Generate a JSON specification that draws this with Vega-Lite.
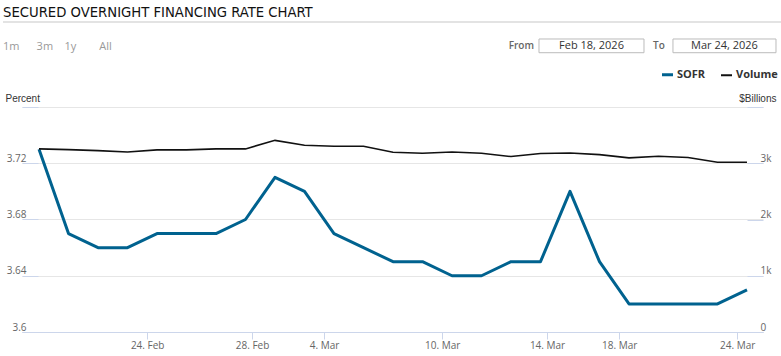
{
  "$schema": "https://vega.github.io/schema/vega-lite/v6.json",
  "width": 741,
  "height": 225,
  "autosize": {"type": "none"},
  "padding": {"left": 22, "top": 107, "right": 18, "bottom": 24},
  "background": "white",
  "datasets": {
    "rates": [
      {"date": "2026-02-18", "sofr": 3.73, "volume": 3255},
      {"date": "2026-02-19", "sofr": 3.67, "volume": 3242},
      {"date": "2026-02-20", "sofr": 3.66, "volume": 3225},
      {"date": "2026-02-23", "sofr": 3.66, "volume": 3200},
      {"date": "2026-02-24", "sofr": 3.67, "volume": 3237},
      {"date": "2026-02-25", "sofr": 3.67, "volume": 3237},
      {"date": "2026-02-26", "sofr": 3.67, "volume": 3255},
      {"date": "2026-02-27", "sofr": 3.68, "volume": 3255},
      {"date": "2026-03-02", "sofr": 3.71, "volume": 3407},
      {"date": "2026-03-03", "sofr": 3.70, "volume": 3319},
      {"date": "2026-03-04", "sofr": 3.67, "volume": 3301},
      {"date": "2026-03-05", "sofr": 3.66, "volume": 3301},
      {"date": "2026-03-06", "sofr": 3.65, "volume": 3195},
      {"date": "2026-03-09", "sofr": 3.65, "volume": 3177},
      {"date": "2026-03-10", "sofr": 3.64, "volume": 3200},
      {"date": "2026-03-11", "sofr": 3.64, "volume": 3177},
      {"date": "2026-03-12", "sofr": 3.65, "volume": 3119},
      {"date": "2026-03-13", "sofr": 3.65, "volume": 3172},
      {"date": "2026-03-16", "sofr": 3.70, "volume": 3183},
      {"date": "2026-03-17", "sofr": 3.65, "volume": 3154},
      {"date": "2026-03-18", "sofr": 3.62, "volume": 3096},
      {"date": "2026-03-19", "sofr": 3.62, "volume": 3124},
      {"date": "2026-03-20", "sofr": 3.62, "volume": 3101},
      {"date": "2026-03-23", "sofr": 3.62, "volume": 3018},
      {"date": "2026-03-24", "sofr": 3.63, "volume": 3018}
    ]
  },
  "title": {
    "text": "SECURED OVERNIGHT FINANCING RATE CHART",
    "subtitle": "1m\u00a0\u00a0\u00a0\u00a0\u00a0\u00a03m\u00a0\u00a0\u00a0\u00a01y\u00a0\u00a0\u00a0\u00a0\u00a0\u00a0\u00a0\u00a0All",
    "anchor": "start",
    "frame": "group",
    "dx": -19,
    "dy": 31,
    "offset": 0,
    "font": "Liberation Sans Narrow, DejaVu Sans Condensed",
    "fontSize": 14.7,
    "fontWeight": "normal",
    "color": "#111111",
    "subtitleFont": "Open Sans",
    "subtitleFontSize": 11,
    "subtitleColor": "#999999",
    "subtitlePadding": 21
  },
  "layer": [
    {
      "layer": [
        {
          "data": {"values": [{"label": "rule"}]},
          "mark": {"type": "rule", "color": "#e3e3e3", "strokeWidth": 2},
          "encoding": {
            "x": {"datum": -0.22, "type": "quantitative"},
            "x2": {"datum": 26.2},
            "y": {"datum": 3.8204, "type": "quantitative"}
          }
        },
        {
          "data": {"values": [{"label": "From"}]},
          "mark": {"type": "text", "align": "right", "baseline": "middle", "font": "Open Sans", "fontSize": 10, "fontWeight": 600, "color": "#666666"},
          "encoding": {
            "x": {"datum": 17.78, "type": "quantitative"},
            "y": {"datum": 3.8034, "type": "quantitative"},
            "text": {"field": "label"}
          }
        },
        {
          "data": {"values": [{"label": "box"}]},
          "mark": {"type": "rect", "fill": "white", "stroke": "#bbbbbb", "strokeWidth": 1},
          "encoding": {
            "x": {"datum": 17.949, "type": "quantitative"},
            "x2": {"datum": 21.508},
            "y": {"datum": 3.80836, "type": "quantitative"},
            "y2": {"datum": 3.79861}
          }
        },
        {
          "data": {"values": [{"label": "Feb 18, 2026"}]},
          "mark": {"type": "text", "align": "center", "baseline": "middle", "font": "Open Sans", "fontSize": 11, "color": "#333333"},
          "encoding": {
            "x": {"datum": 19.729, "type": "quantitative"},
            "y": {"datum": 3.8034, "type": "quantitative"},
            "text": {"field": "label"}
          }
        },
        {
          "data": {"values": [{"label": "To"}]},
          "mark": {"type": "text", "align": "left", "baseline": "middle", "font": "Open Sans", "fontSize": 10, "fontWeight": 600, "color": "#666666"},
          "encoding": {
            "x": {"datum": 21.814, "type": "quantitative"},
            "y": {"datum": 3.8034, "type": "quantitative"},
            "text": {"field": "label"}
          }
        },
        {
          "data": {"values": [{"label": "box"}]},
          "mark": {"type": "rect", "fill": "white", "stroke": "#bbbbbb", "strokeWidth": 1},
          "encoding": {
            "x": {"datum": 22.49, "type": "quantitative"},
            "x2": {"datum": 25.983},
            "y": {"datum": 3.80836, "type": "quantitative"},
            "y2": {"datum": 3.79861}
          }
        },
        {
          "data": {"values": [{"label": "Mar 24, 2026"}]},
          "mark": {"type": "text", "align": "center", "baseline": "middle", "font": "Open Sans", "fontSize": 11, "color": "#333333"},
          "encoding": {
            "x": {"datum": 24.237, "type": "quantitative"},
            "y": {"datum": 3.8034, "type": "quantitative"},
            "text": {"field": "label"}
          }
        },
        {
          "data": {"name": "rates"},
          "transform": [{"window": [{"op": "row_number", "as": "day"}], "sort": [{"field": "date"}]}],
          "mark": {"type": "line", "strokeWidth": 3, "strokeJoin": "round"},
          "encoding": {
            "x": {
              "field": "day", "type": "quantitative",
              "scale": {"domain": [0.4237, 25.5424], "nice": false, "zero": false},
              "axis": {
                "values": [4.6667, 8.2222, 10.6667, 14.6667, 18.2222, 20.6667, 24.6667],
                "labelExpr": "datum.value < 6 ? '24. Feb' : datum.value < 9 ? '28. Feb' : datum.value < 12 ? '4. Mar' : datum.value < 16 ? '10. Mar' : datum.value < 19 ? '14. Mar' : datum.value < 22 ? '18. Mar' : '24. Mar'",
                "title": null,
                "grid": false,
                "domainColor": "#ccd6eb",
                "tickColor": "#ccd6eb",
                "tickSize": 7,
                "labelPadding": 1,
                "labelFont": "Open Sans",
                "labelFontSize": 10,
                "labelColor": "#666666",
                "labelFlush": false,
                "labelOverlap": false
              }
            },
            "y": {
              "field": "sofr", "type": "quantitative",
              "scale": {"domain": [3.6, 3.76], "nice": false, "zero": false},
              "axis": {
                "values": [3.6, 3.64, 3.68, 3.72, 3.76],
                "labelExpr": "datum.value > 3.75 ? '' : format(datum.value, '~g')",
                "title": "Percent",
                "titleAngle": 0,
                "titleAlign": "left",
                "titleBaseline": "middle",
                "titleX": -17,
                "titleY": -9,
                "titleFont": "Liberation Sans",
                "titleFontSize": 10,
                "titleFontWeight": "normal",
                "titleColor": "#333333",
                "grid": true,
                "gridColor": "#e6e6e6",
                "domain": false,
                "ticks": true,
                "tickSize": -16,
                "tickColor": "#ccd6eb",
                "labelAlign": "right",
                "labelBaseline": "alphabetic",
                "labelOffset": -2,
                "labelPadding": 12,
                "labelFont": "Open Sans",
                "labelFontSize": 10,
                "labelColor": "#666666"
              }
            },
            "color": {
              "datum": "SOFR",
              "scale": {"domain": ["SOFR", "Volume"], "range": ["#00628f", "#111111"]},
              "legend": {
                "title": null,
                "orient": "none",
                "legendX": 640,
                "legendY": -38,
                "direction": "horizontal",
                "symbolType": "stroke",
                "symbolSize": 121,
                "labelFont": "Open Sans",
                "labelFontSize": 11,
                "labelFontWeight": "bold",
                "labelColor": "#333333",
                "labelOffset": 4,
                "columnPadding": 11,
                "padding": 0,
                "encode": {"symbols": {"update": {"strokeWidth": {"signal": "datum.value === 'SOFR' ? 3 : 2"}}}}
              }
            }
          }
        }
      ]
    },
    {
      "data": {"name": "rates"},
      "transform": [{"window": [{"op": "row_number", "as": "day"}], "sort": [{"field": "date"}]}],
      "mark": {"type": "line", "strokeWidth": 1.6},
      "encoding": {
        "x": {"field": "day", "type": "quantitative"},
        "y": {
          "field": "volume", "type": "quantitative",
          "scale": {"domain": [0, 4000], "nice": false},
          "axis": {
            "orient": "right",
            "values": [0, 1000, 2000, 3000, 4000],
            "labelExpr": "datum.value >= 4000 ? '' : datum.value == 0 ? '0' : (datum.value / 1000) + 'k'",
            "title": "$Billions",
            "titleAngle": 0,
            "titleAlign": "right",
            "titleBaseline": "middle",
            "titleX": 13,
            "titleY": -9,
            "titleFont": "Liberation Sans",
            "titleFontSize": 10,
            "titleFontWeight": "normal",
            "titleColor": "#333333",
            "grid": false,
            "domain": false,
            "ticks": true,
            "tickSize": -16,
            "tickColor": "#ccd6eb",
            "labelAlign": "left",
            "labelBaseline": "alphabetic",
            "labelOffset": -2,
            "labelPadding": 13,
            "labelFont": "Open Sans",
            "labelFontSize": 10,
            "labelColor": "#666666"
          }
        },
        "color": {"datum": "Volume"}
      }
    }
  ],
  "resolve": {"scale": {"y": "independent"}},
  "config": {"view": {"stroke": null}}
}
